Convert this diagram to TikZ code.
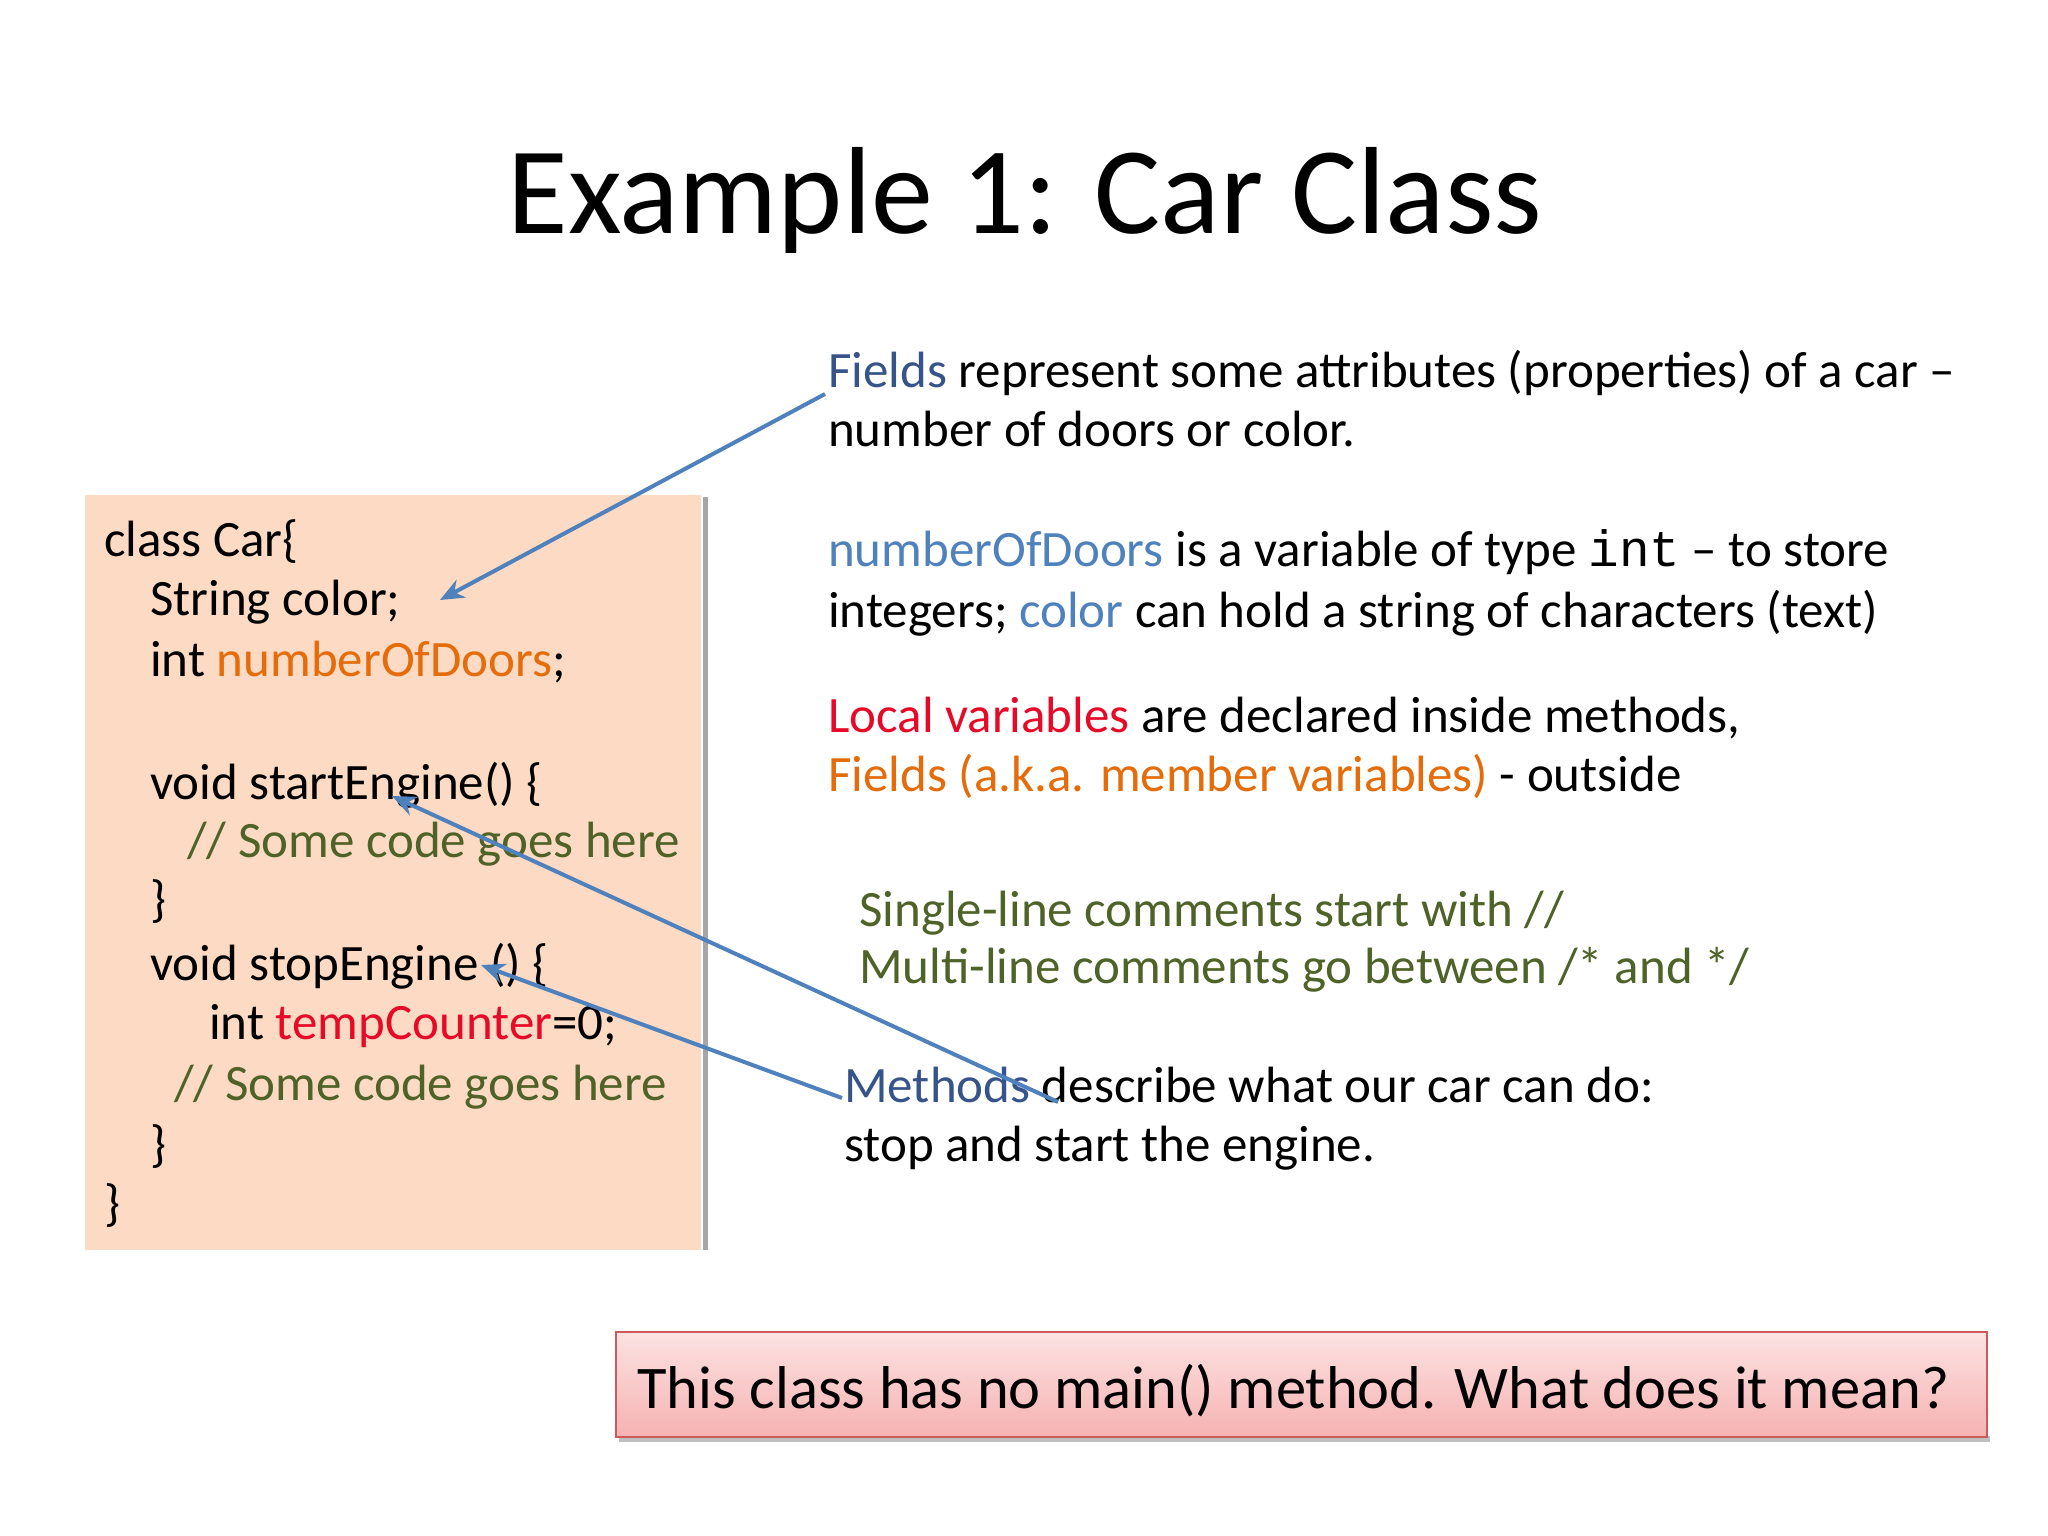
\documentclass[tikz,border=0pt]{standalone}
\usepackage{fontspec}
\setmainfont{Carlito}
\newfontfamily\monof{Liberation Mono}
\usetikzlibrary{arrows.meta}
\definecolor{peach}{RGB}{252,218,195}
\definecolor{arrowblue}{RGB}{79,129,189}
\definecolor{fieldblue}{RGB}{54,84,138}
\definecolor{lightblue}{RGB}{79,129,189}
\definecolor{orangec}{RGB}{228,108,10}
\definecolor{redc}{RGB}{230,10,40}
\definecolor{olive}{RGB}{79,98,40}
\definecolor{pinktop}{RGB}{252,226,226}
\definecolor{pinkbot}{RGB}{246,178,178}
\definecolor{pinkborder}{RGB}{205,90,90}
\begin{document}
\begin{tikzpicture}[x=1pt,y=-1pt,
  codetxt/.style={anchor=base west, inner sep=0, font=\fontsize{51}{60}\selectfont},
  sidetxt/.style={anchor=base west, inner sep=0, font=\fontsize{51}{60}\selectfont},
  pointer/.style={draw=arrowblue, line width=4pt, -{Stealth[length=24pt,width=20pt]}}]
\useasboundingbox (0,0) rectangle (2048,1536);
\fill[white] (0,0) rectangle (2048,1536);
% title
\node[anchor=base, inner sep=0, font=\fontsize{124}{146}\selectfont] (title) at (1025,233) {Example 1: Car Class};
% code box
\fill[black!35] (703,497) rectangle (708,1250);
\node[fill=peach, inner sep=0, minimum width=616pt, minimum height=755pt, anchor=north west] (codebox) at (85,495) {};
\node[codetxt] (l1) at (104,556) {class Car\{};
\node[codetxt] (l2) at (150,615) {String color;};
\node[codetxt] (l3) at (150,676) {int \textcolor{orangec}{numberOfDoors};};
\node[codetxt] (l4) at (150,799) {void startEngine() \{};
\node[codetxt, text=olive] (l5) at (187,857) {// Some code goes here};
\node[codetxt] (l6) at (150,916) {\}};
\node[codetxt] (l7) at (150,980) {void stopEngine () \{};
\node[codetxt] (l8) at (209,1039) {int \textcolor{redc}{tempCounter}=0;};
\node[codetxt, text=olive] (l9) at (174,1100) {// Some code goes here};
\node[codetxt] (l10) at (150,1161) {\}};
\node[codetxt] (l11) at (104,1220) {\}};
% side texts
\node[sidetxt] (f1) at (828,387) {\textcolor{fieldblue}{Fields} represent some attributes (properties) of a car –};
\node[sidetxt] (f2) at (828,446) {number of doors or color.};
\node[sidetxt] (n1) at (828,566) {\textcolor{lightblue}{numberOfDoors} is a variable of type {\monof int} – to store};
\node[sidetxt] (n2) at (828,627) {integers; \textcolor{lightblue}{color} can hold a string of characters (text)};
\node[sidetxt] (v1) at (828,732) {\textcolor{redc}{Local variables} are declared inside methods,};
\node[sidetxt] (v2) at (828,791) {\textcolor{orangec}{Fields (a.k.a. member variables)} - outside};
\node[sidetxt, text=olive] (c1) at (859,926) {Single-line comments start with //};
\node[sidetxt, text=olive] (c2) at (859,983) {Multi-line comments go between /* and */};
\node[sidetxt] (m1) at (844,1102) {\textcolor{fieldblue}{Methods} describe what our car can do:};
\node[sidetxt] (m2) at (844,1161) {stop and start the engine.};
% bottom box
\fill[black!25] (619,1436) rectangle (1990,1442);
\node[draw=pinkborder, line width=2pt, top color=pinktop, bottom color=pinkbot, inner sep=0, minimum width=1371pt, minimum height=105pt, anchor=north west] (q) at (615,1331) {};
\node[anchor=base west, inner sep=0, font=\fontsize{60.5}{72}\selectfont] (qt) at (637,1408) {This class has no main() method. What does it mean?};
% arrows
\coordinate (a1s) at (825,394);
\coordinate (a1e) at (440,600);
\coordinate (a2s) at (1058,1102);
\coordinate (a2e) at (392,796);
\coordinate (a3s) at (842,1098);
\coordinate (a3e) at (481,965);
\draw[pointer] (a1s) -- (a1e);
\draw[pointer] (a2s) -- (a2e);
\draw[pointer] (a3s) -- (a3e);
\end{tikzpicture}
\end{document}
